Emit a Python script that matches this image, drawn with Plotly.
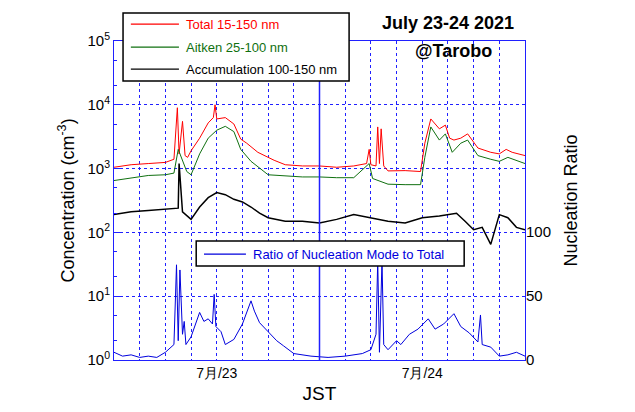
import plotly.graph_objects as go

# hours since 7/23 00:00 JST
t_total = [0,2,4,6,7,7.4,7.6,8,8.3,8.6,9,10,11,11.6,11.8,12,13,14,14.8,15.5,16.8,18.7,20,22,24,26,28,29.5,29.8,30,30.6,30.8,31,31.2,31.5,32,34,35.8,36.3,37,38,38.7,39.2,39.7,40.5,41.3,42.5,44,45,45.8,46.5,48]
total   = [1050,1150,1200,1250,1400,9000,1700,5500,1600,1500,1900,3000,5200,6300,10000,6000,6300,5000,2900,2500,1800,1350,1150,1100,1100,1050,1100,1200,2000,1150,1100,4500,1200,4200,1100,920,930,900,2500,6000,4200,4800,3000,2800,3000,3500,2100,1800,1700,2000,1800,1600]
t_green = [0,2,4,6,7,7.5,8,8.5,9,10,11,12,13,14,14.8,16,18,20,22,24,26,28,29.8,30.2,32,34,35.8,36.3,37,38,38.7,39.5,40.5,41.3,42.5,44,45,46,48]
green   = [650,720,780,800,850,2000,1300,900,800,1700,3000,4000,4600,3800,2000,1300,800,760,740,740,720,720,1200,700,570,560,560,1500,4500,2800,3500,1800,2500,2800,1600,1400,1300,1500,1200]
t_black = [0,2,4,6,7.5,7.6,8,9,10,11,12,13,14,15,16,17,18,20,22,24,26,28,30,32,34,36,38,40,41,42,43,44,45,46,47,48]
black   = [190,210,220,230,240,1200,210,160,250,350,420,390,330,300,250,200,170,150,150,140,160,190,170,150,140,170,180,200,150,110,120,65,190,170,120,110]
t_ratio = [0,1,2,3,4,5,6,7,7.3,7.5,7.7,8,8.2,8.4,9,10,10.5,11,11.5,11.7,11.9,12.5,13,14,15,16,16.4,17,18,19,19.8,21,23,25,27,29,30,30.6,30.8,31,31.3,31.5,32,33,33.5,34.5,35.5,36.7,37.5,38.5,39.7,40.5,41.5,42.5,42.8,43,44,45,46,47,48]
ratio   = [6,3,4,2,3,2,6,12,74,15,70,20,30,12,18,37,30,32,28,51,26,22,12,16,28,46,38,29,22,15,11,5,3,2,3,5,8,20,77,6,77,12,8,15,12,20,24,32,24,28,36,26,21,14,35,12,10,3,4,6,3]

tick_vals = [12, 36]
tick_text = ["7月/23", "7月/24"]

BLUE = "#2020ff"
fig = go.Figure()
fig.add_trace(go.Scatter(x=t_total, y=total, mode="lines", line=dict(color="red", width=1), yaxis="y"))
fig.add_trace(go.Scatter(x=t_green, y=green, mode="lines", line=dict(color="#107010", width=1), yaxis="y"))
fig.add_trace(go.Scatter(x=t_black, y=black, mode="lines", line=dict(color="black", width=1.5), yaxis="y"))
fig.add_trace(go.Scatter(x=t_ratio, y=ratio, mode="lines", line=dict(color="#0000dd", width=1), yaxis="y2"))

fig.update_layout(
    width=635, height=412, showlegend=False,
    paper_bgcolor="white", plot_bgcolor="white",
    margin=dict(l=106, r=118, t=33, b=60),
    font=dict(family="Liberation Sans, Arial", color="black"),
    xaxis=dict(range=[0, 48], tickvals=tick_vals, ticktext=tick_text, tickfont=dict(size=14),
               showgrid=False, showline=True, linecolor=BLUE, mirror=True, ticks="",
               title=dict(text="JST", font=dict(size=19), standoff=6),
               minor=dict(tickvals=list(range(3, 48, 3)), showgrid=True, gridcolor=BLUE, griddash="dot", gridwidth=1)),
    yaxis=dict(type="log", range=[0, 5], tickvals=[1, 10, 100, 1000, 10000, 100000],
               ticktext=["10<sup>0</sup>", "10<sup>1</sup>", "10<sup>2</sup>", "10<sup>3</sup>", "10<sup>4</sup>", "10<sup>5</sup>"],
               tickfont=dict(size=15), showgrid=True, gridcolor=BLUE, griddash="dot", gridwidth=1,
               showline=True, linecolor=BLUE, mirror=True, ticks="inside", tickcolor=BLUE, ticklen=6,
               minor=dict(ticks="inside", ticklen=3, tickcolor=BLUE, showgrid=False),
               title=dict(text="Concentration (cm<sup>-3</sup>)", font=dict(size=18), standoff=8)),
    yaxis2=dict(overlaying="y", side="right", range=[0, 248], tickvals=[0, 50, 100],
                tickfont=dict(size=15), showgrid=False, zeroline=False, ticks="",
                title=dict(text="Nucleation Ratio", font=dict(size=18), standoff=14)),
    shapes=[dict(type="line", xref="x", yref="paper", x0=24, x1=24, y0=0, y1=1, line=dict(color=BLUE, width=1.5))],
)

# legend boxes
fig.add_shape(type="rect", xref="paper", yref="paper", x0=0.022, x1=0.572, y0=0.875, y1=1.088,
              line=dict(color="black", width=1.5), fillcolor="white", layer="above")
leg = [("Total 15-150 nm", "red"), ("Aitken 25-100 nm", "#107010"), ("Accumulation 100-150 nm", "black")]
for i, (txt, col) in enumerate(leg):
    yy = [1.053, 0.981, 0.912][i]
    fig.add_shape(type="line", xref="paper", yref="paper", x0=0.041, x1=0.158, y0=yy, y1=yy,
                  line=dict(color=col, width=1.2), layer="above")
    fig.add_annotation(xref="paper", yref="paper", x=0.17, y=yy, text=txt, showarrow=False,
                       xanchor="left", yanchor="middle", font=dict(size=13, color=col))
fig.add_shape(type="rect", xref="paper", yref="paper", x0=0.2, x1=0.852, y0=0.295, y1=0.373,
              line=dict(color="black", width=1.5), fillcolor="white", layer="above")
fig.add_shape(type="line", xref="paper", yref="paper", x0=0.219, x1=0.321, y0=0.332, y1=0.332,
              line=dict(color="#0000dd", width=1.2), layer="above")
fig.add_annotation(xref="paper", yref="paper", x=0.333, y=0.332, text="Ratio of Nucleation Mode to Total",
                   showarrow=False, xanchor="left", yanchor="middle", font=dict(size=13, color="#0000dd"))
fig.add_annotation(xref="paper", yref="paper", x=0.813, y=1.056, text="<b>July 23-24 2021</b>",
                   showarrow=False, xanchor="center", yanchor="middle", font=dict(size=18))
fig.add_annotation(xref="paper", yref="paper", x=0.825, y=0.969, text="<b>@Tarobo</b>",
                   showarrow=False, xanchor="center", yanchor="middle", font=dict(size=18))

fig.write_html("out.html")
